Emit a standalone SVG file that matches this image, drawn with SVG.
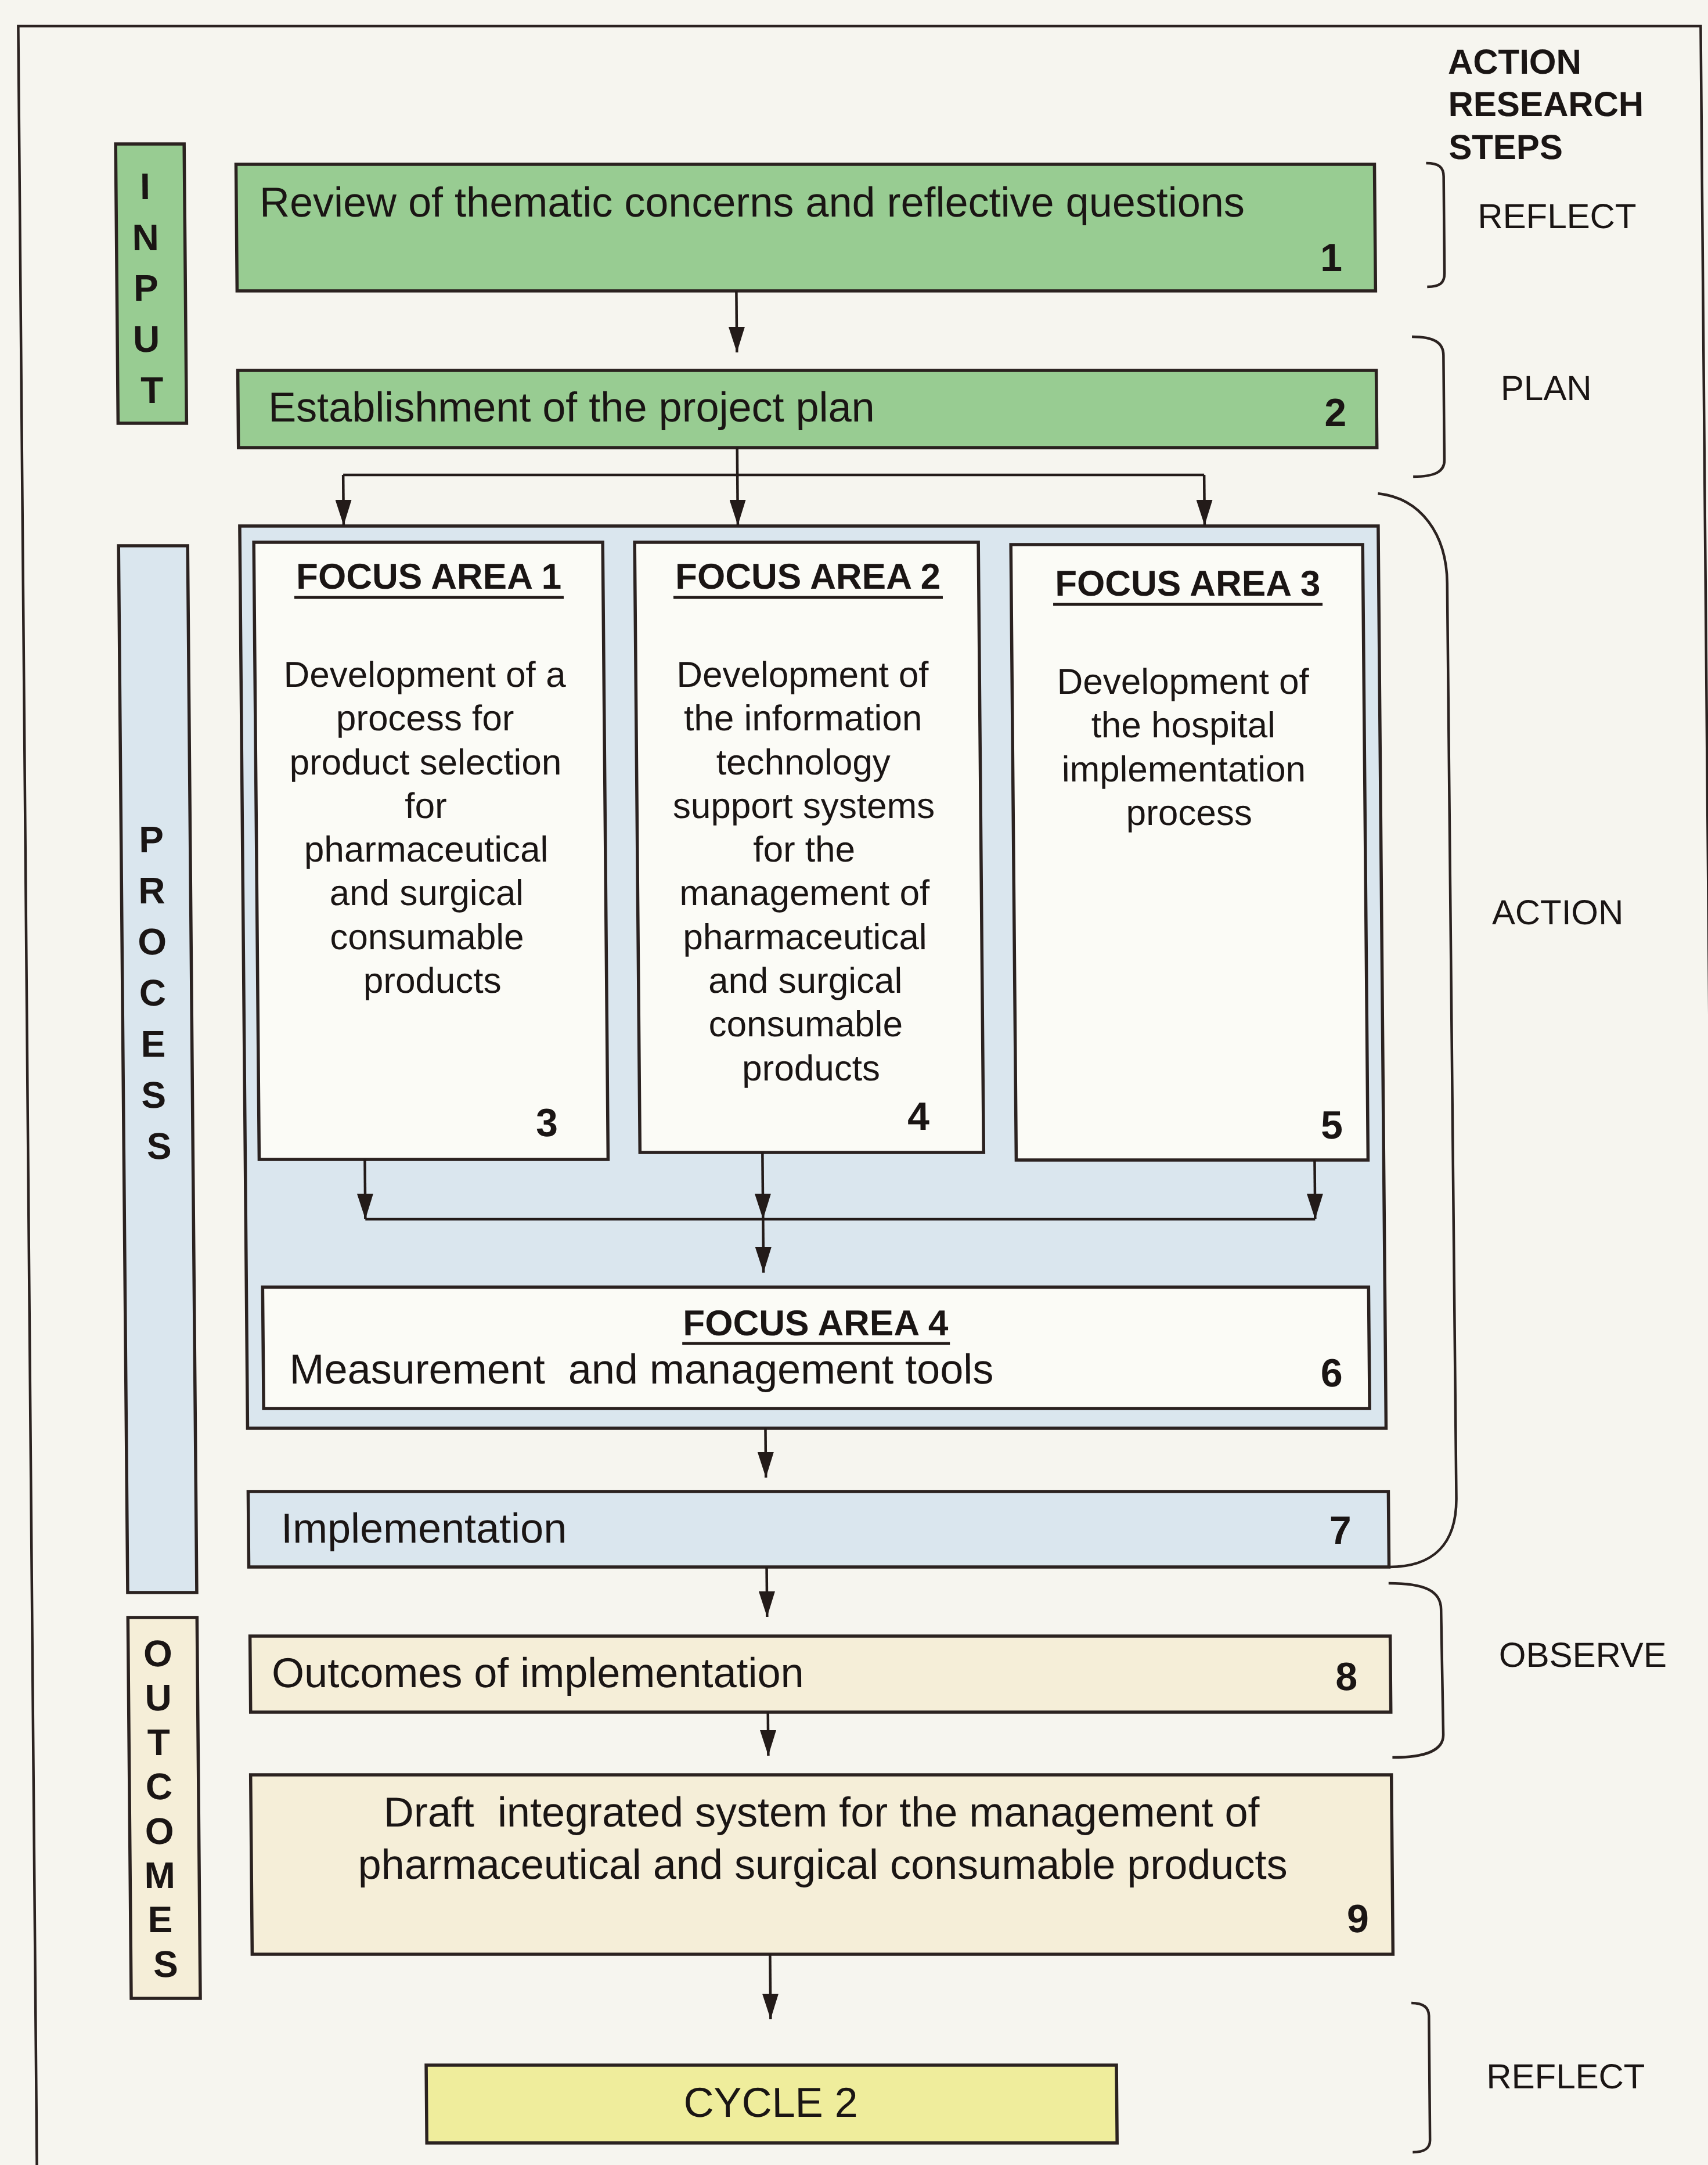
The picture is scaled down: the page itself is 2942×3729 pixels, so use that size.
<svg xmlns="http://www.w3.org/2000/svg" width="2942" height="3729" viewBox="0 0 2942 3729">
  <defs>
    <marker id="arrow" viewBox="0 0 44 28" refX="44" refY="14" markerWidth="44" markerHeight="28" markerUnits="userSpaceOnUse" orient="auto">
      <path d="M0,0 L44,14 L0,28 z" fill="#231b19"/>
    </marker>
    <style>
      .box { stroke: #2b2220; stroke-width: 5.5; }
      .green { fill: #98cc92; }
      .blue { fill: #dae6ee; }
      .white { fill: #fbfbf6; }
      .beige { fill: #f5eed8; }
      .yellow { fill: #efed9c; }
      .conn { fill: none; stroke: #231b19; stroke-width: 4.5; }
      .brace { fill: none; stroke: #2b2220; stroke-width: 4.5; }
      .ul { stroke: #231b19; stroke-width: 5; }
      text { font-family: "Liberation Sans", Arial, sans-serif; fill: #1a1514; }
      .main { font-size: 72px; }
      .body { font-size: 62px; text-anchor: middle; }
      .title { font-size: 62px; font-weight: bold; text-anchor: middle; }
      .num { font-size: 68px; font-weight: bold; text-anchor: end; }
      .side { font-size: 64px; font-weight: bold; text-anchor: middle; }
      .step { font-size: 60px; }
      .head { font-size: 60px; font-weight: bold; }
    </style>
  </defs>

  <rect x="0" y="0" width="2942" height="3729" fill="#f6f5ef"/>

  <!-- page is slightly sheared, so everything sits in a skewed group -->
  <g transform="skewX(0.5)">
    <!-- outer frame (runs off the bottom of the page) -->
    <rect id="frame" x="31" y="45" width="2898" height="4000" fill="none" stroke="#2b2220" stroke-width="4.5"/>

    <!-- left phase bars -->
    <g id="input-bar">
      <rect class="box green" x="197" y="248" width="118" height="481"/>
      <text class="side">
        <tspan x="256" y="343">I</tspan>
        <tspan x="256" y="431">N</tspan>
        <tspan x="256" y="518">P</tspan>
        <tspan x="256" y="606">U</tspan>
        <tspan x="256" y="694">T</tspan>
      </text>
    </g>
    <g id="process-bar">
      <rect class="box blue" x="196" y="940" width="119" height="1803"/>
      <text class="side">
        <tspan x="257" y="1468">P</tspan>
        <tspan x="257" y="1556">R</tspan>
        <tspan x="257" y="1644">O</tspan>
        <tspan x="257" y="1732">C</tspan>
        <tspan x="257" y="1820">E</tspan>
        <tspan x="257" y="1908">S</tspan>
        <tspan x="257" y="1996">S</tspan>
      </text>
    </g>
    <g id="outcomes-bar">
      <rect class="box beige" x="196" y="2786" width="119" height="656"/>
      <text class="side">
        <tspan x="256" y="2870">O</tspan>
        <tspan x="256" y="2946">U</tspan>
        <tspan x="256" y="3023">T</tspan>
        <tspan x="256" y="3099">C</tspan>
        <tspan x="256" y="3176">O</tspan>
        <tspan x="256" y="3252">M</tspan>
        <tspan x="256" y="3328">E</tspan>
        <tspan x="256" y="3405">S</tspan>
      </text>
    </g>

    <!-- step 1 -->
    <g id="step1">
      <rect class="box green" x="404" y="283" width="1961" height="218"/>
      <text class="main" x="444" y="373">Review of thematic concerns and reflective questions</text>
      <text class="num" x="2308" y="467">1</text>
    </g>

    <!-- step 2 -->
    <g id="step2">
      <rect class="box green" x="404" y="638" width="1961" height="133"/>
      <text class="main" x="456" y="726">Establishment of the project plan</text>
      <text class="num" x="2313" y="734">2</text>
    </g>

    <!-- focus area container -->
    <g id="focus-areas">
      <rect class="box blue" x="405" y="906" width="1961" height="1554"/>
    </g>

    <g id="focus1">
      <rect class="box white" x="429" y="934" width="601" height="1063"/>
      <text class="title" x="730" y="1014">FOCUS AREA 1</text>
      <line class="ul" x1="498" y1="1029" x2="962" y2="1029"/>
      <text class="body">
        <tspan x="730" y="1183">Development of a</tspan>
        <tspan x="730" y="1258">process for</tspan>
        <tspan x="730" y="1334">product selection</tspan>
        <tspan x="730" y="1409">for</tspan>
        <tspan x="730" y="1484">pharmaceutical</tspan>
        <tspan x="730" y="1559">and surgical</tspan>
        <tspan x="730" y="1635">consumable</tspan>
        <tspan x="730" y="1710">products</tspan>
      </text>
      <text class="num" x="944" y="1957">3</text>
    </g>

    <g id="focus2">
      <rect class="box white" x="1085" y="934" width="592" height="1051"/>
      <text class="title" x="1383" y="1014">FOCUS AREA 2</text>
      <line class="ul" x1="1151" y1="1029" x2="1615" y2="1029"/>
      <text class="body">
        <tspan x="1381" y="1183">Development of</tspan>
        <tspan x="1381" y="1258">the information</tspan>
        <tspan x="1381" y="1334">technology</tspan>
        <tspan x="1381" y="1409">support systems</tspan>
        <tspan x="1381" y="1484">for the</tspan>
        <tspan x="1381" y="1559">management of</tspan>
        <tspan x="1381" y="1635">pharmaceutical</tspan>
        <tspan x="1381" y="1710">and surgical</tspan>
        <tspan x="1381" y="1785">consumable</tspan>
        <tspan x="1381" y="1861">products</tspan>
      </text>
      <text class="num" x="1584" y="1946">4</text>
    </g>

    <g id="focus3">
      <rect class="box white" x="1733" y="938" width="606" height="1060"/>
      <text class="title" x="2037" y="1026">FOCUS AREA 3</text>
      <line class="ul" x1="1805" y1="1041" x2="2269" y2="1041"/>
      <text class="body">
        <tspan x="2036" y="1195">Development of</tspan>
        <tspan x="2036" y="1270">the hospital</tspan>
        <tspan x="2036" y="1346">implementation</tspan>
        <tspan x="2036" y="1421">process</tspan>
      </text>
      <text class="num" x="2296" y="1961">5</text>
    </g>

    <g id="focus4">
      <rect class="box white" x="433" y="2217" width="1905" height="209"/>
      <text class="title" x="1385" y="2300">FOCUS AREA 4</text>
      <line class="ul" x1="1155" y1="2314" x2="1616" y2="2314"/>
      <text class="main" x="478" y="2383" font-size="62" xml:space="preserve">Measurement  and management tools</text>
      <text class="num" x="2292" y="2388">6</text>
    </g>

    <!-- step 7 -->
    <g id="step7">
      <rect class="box blue" x="405" y="2569" width="1964" height="130"/>
      <text class="main" x="461" y="2657" font-size="68">Implementation</text>
      <text class="num" x="2305" y="2659">7</text>
    </g>

    <!-- step 8 -->
    <g id="step8">
      <rect class="box beige" x="406" y="2818" width="1964" height="131"/>
      <text class="main" x="443" y="2906">Outcomes of implementation</text>
      <text class="num" x="2313" y="2911">8</text>
    </g>

    <!-- step 9 -->
    <g id="step9">
      <rect class="box beige" x="405" y="3057" width="1965" height="309"/>
      <text class="main" text-anchor="middle" xml:space="preserve" x="1388" y="3146">Draft  integrated system for the management of</text>
      <text class="main" text-anchor="middle" x="1389" y="3236">pharmaceutical and surgical consumable products</text>
      <text class="num" x="2329" y="3328">9</text>
    </g>

    <!-- next cycle -->
    <g id="cycle2">
      <rect class="box yellow" x="703" y="3557" width="1189" height="134"/>
      <text class="main" text-anchor="middle" font-size="70" x="1296" y="3646">CYCLE 2</text>
    </g>

    <!-- connectors -->
    <g id="connectors">
      <path class="conn" d="M1264 501 V607" marker-end="url(#arrow)"/>
      <path class="conn" d="M1263 771 V905" marker-end="url(#arrow)"/>
      <path class="conn" d="M584 818 H2067"/>
      <path class="conn" d="M584 818 V905" marker-end="url(#arrow)"/>
      <path class="conn" d="M2067 818 V905" marker-end="url(#arrow)"/>
      <path class="conn" d="M611 1997 V2100" marker-end="url(#arrow)"/>
      <path class="conn" d="M2247 1998 V2100" marker-end="url(#arrow)"/>
      <path class="conn" d="M611 2100 H2247"/>
      <path class="conn" d="M1296 1985 V2100" marker-end="url(#arrow)"/>
      <path class="conn" d="M1296 2100 V2192" marker-end="url(#arrow)"/>
      <path class="conn" d="M1297 2460 V2545" marker-end="url(#arrow)"/>
      <path class="conn" d="M1297 2699 V2785" marker-end="url(#arrow)"/>
      <path class="conn" d="M1297 2949 V3024" marker-end="url(#arrow)"/>
      <path class="conn" d="M1297 3366 V3478" marker-end="url(#arrow)"/>
    </g>

    <!-- action research steps column -->
    <g id="steps">
      <text class="head">
        <tspan x="2493" y="127">ACTION</tspan>
        <tspan x="2493" y="200">RESEARCH</tspan>
        <tspan x="2493" y="274">STEPS</tspan>
      </text>
      <path class="brace" d="M2454 281 C2476 281 2484 288 2484 304 L2484 471 C2484 487 2476 494 2454 494"/>
      <text class="step" x="2542" y="393">REFLECT</text>
      <path class="brace" d="M2427 580 C2465 580 2481 590 2481 612 L2481 793 C2481 812 2465 821 2427 821"/>
      <text class="step" x="2579" y="689">PLAN</text>
      <path class="brace" d="M2366 850 C2440 858 2484 920 2484 1005 L2486 2580 C2486 2660 2445 2699 2369 2699"/>
      <text class="step" x="2556" y="1592">ACTION</text>
      <path class="brace" d="M2368 2727 C2430 2727 2458 2740 2458 2772 L2460 2988 C2460 3015 2430 3027 2372 3027"/>
      <text class="step" x="2557" y="2871">OBSERVE</text>
      <path class="brace" d="M2401 3450 C2422 3450 2431 3458 2431 3472 L2431 3686 C2431 3700 2422 3707 2401 3707"/>
      <text class="step" x="2529" y="3597">REFLECT</text>
    </g>
  </g>
</svg>
